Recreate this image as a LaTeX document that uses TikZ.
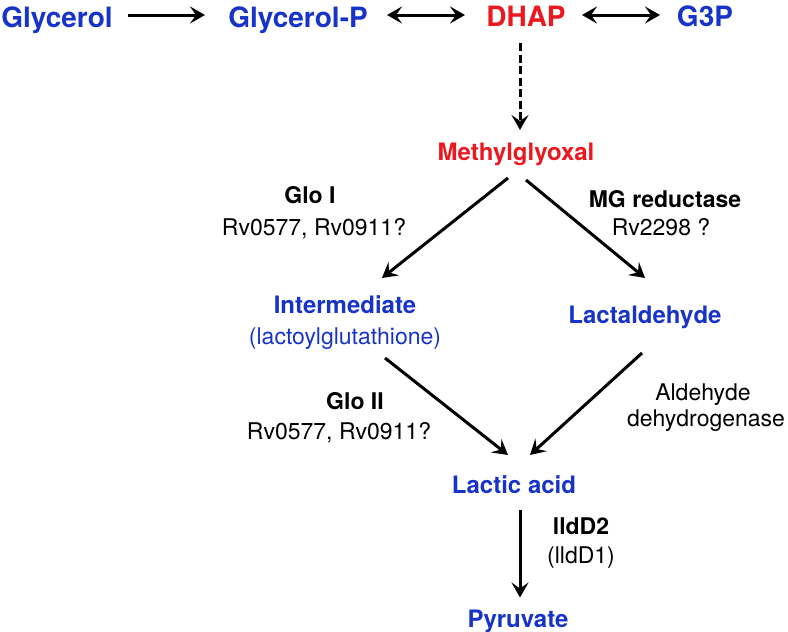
\documentclass[tikz,border=0pt]{standalone}
\usepackage{fontspec}
\setmainfont{TeX Gyre Heros}
\usetikzlibrary{arrows.meta}
\definecolor{metblue}{RGB}{24,52,200}
\definecolor{metred}{RGB}{236,24,32}
\tikzset{met/.style={font=\fontsize{24}{29}\selectfont\bfseries, color=metblue, inner sep=0, text height=17.3pt, text depth=0pt},
  topmet/.style={met, font=\fontsize{28}{34}\selectfont\bfseries, text height=20.2pt},
  enz/.style={font=\fontsize{23}{28}\selectfont, inner sep=0, text height=16.5pt, text depth=0pt},
  enzb/.style={enz, font=\fontsize{23}{28}\selectfont\bfseries},
  tip/.tip={Stealth[length=15pt, width=17pt, inset=6pt]},
  rxn/.style={line width=3pt, -tip},
  eq/.style={line width=3pt, tip-tip}}

\begin{document}
\begin{tikzpicture}[x=1pt, y=-1pt]
\useasboundingbox (0,0) rectangle (788,632);
\node[topmet] (gly) at (57, 17) {Glycerol};
\node[topmet] (glyp) at (298, 17) {Glycerol-P};
\node[topmet, color=metred] (dhap) at (526, 16) {DHAP};
\node[topmet] (g3p) at (705, 16) {G3P};
\node[met, color=metred] (mg) at (516, 152) {Methylglyoxal};
\node[enzb] (gloI) at (310, 195.5) {Glo I};
\node[enz] (gloIrv) at (314, 227.5) {Rv0577, Rv0911?};
\node[enzb] (mgr) at (665, 199.5) {MG reductase};
\node[enz] (mgrrv) at (661, 227.5) {Rv2298 ?};
\node[met] (inter) at (345, 305) {Intermediate};
\node[met, font=\fontsize{23}{28}\selectfont, text height=16.5pt] (lgsh) at (345, 336) {(lactoylglutathione)};
\node[met] (lald) at (645, 315) {Lactaldehyde};
\node[enzb] (gloII) at (355, 401) {Glo II};
\node[enz] (gloIIrv) at (339, 431) {Rv0577, Rv0911?};
\node[enz] (ald) at (703, 392) {Aldehyde};
\node[enz] (dehyd) at (706, 418.5) {dehydrogenase};
\node[met] (lac) at (514, 485) {Lactic acid};
\node[enzb] (lldd2) at (581, 526.5) {lldD2};
\node[enz] (lldd1) at (581, 555) {(lldD1)};
\node[met] (pyr) at (518, 618.5) {Pyruvate};

\draw[rxn] ([shift={(71,-2)}]gly.center) -- ([shift={(-93,-2)}]glyp.center);
\draw[eq] ([shift={(89,-2)}]glyp.center) -- ([shift={(-61,-1)}]dhap.center);
\draw[eq] ([shift={(56,-1)}]dhap.center) -- ([shift={(-45,-1)}]g3p.center);
\draw[rxn, dash pattern=on 8pt off 3.5pt] ([shift={(-6,27)}]dhap.center) -- ([shift={(4,-22)}]mg.center);
\draw[rxn] ([shift={(-8,26)}]mg.center) -- ([shift={(37,-27)}]inter.center);
\draw[rxn] ([shift={(10,28)}]mg.center) -- ([shift={(0,-37)}]lald.center);
\draw[rxn] ([shift={(40,22)}]lgsh.center) -- ([shift={(-6,-30)}]lac.center);
\draw[rxn] ([shift={(-3,38)}]lald.center) -- ([shift={(16,-30)}]lac.center);
\draw[rxn] ([shift={(6,25)}]lac.center) -- ([shift={(2,-21)}]pyr.center);
\end{tikzpicture}
\end{document}
